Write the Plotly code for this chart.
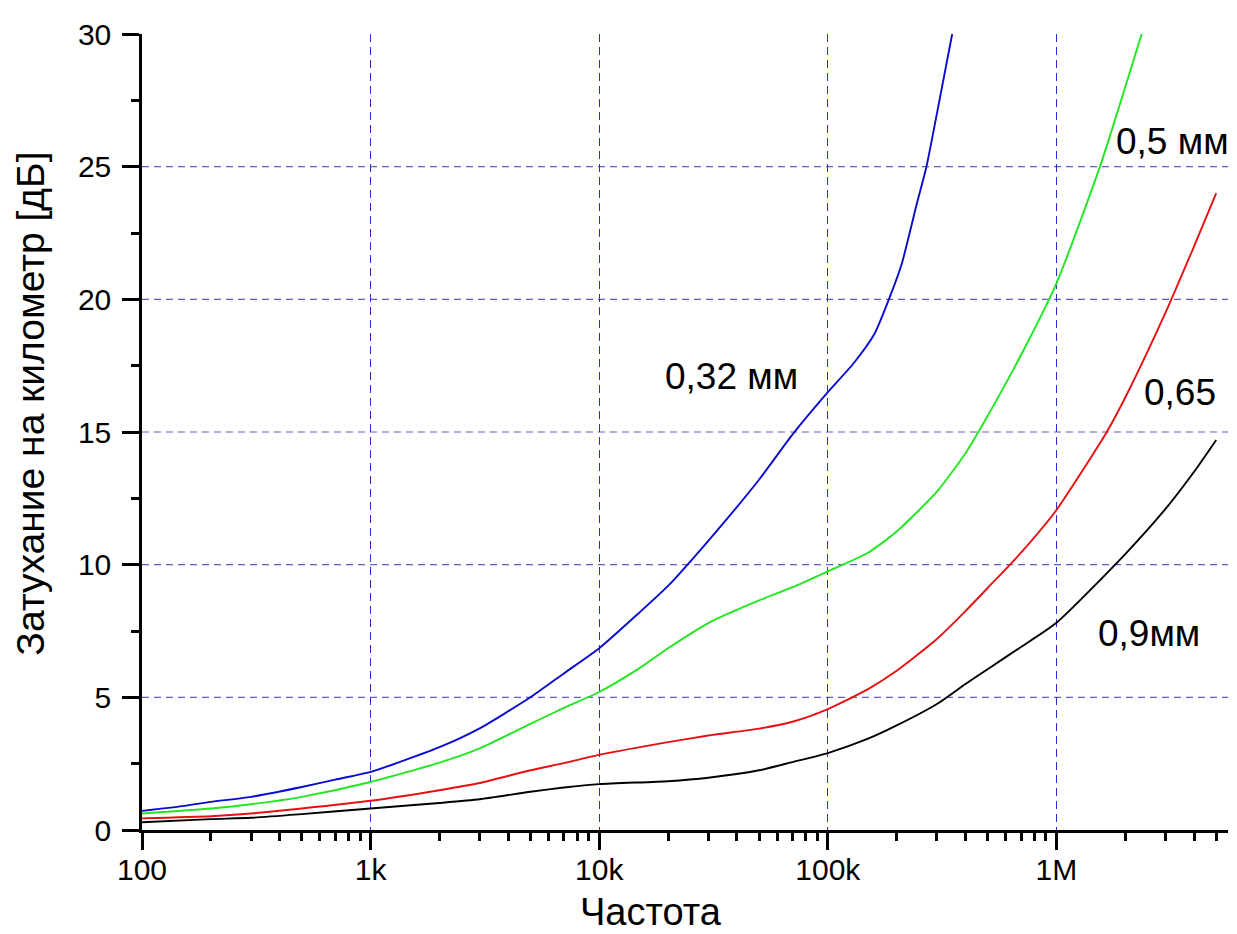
import plotly.graph_objects as go

# ---- data ----
freq_032 = [100, 150, 200, 300, 500, 700, 1000, 2000, 3000, 5000, 7000, 10000, 15000, 20000, 30000,
            50000, 70000, 100000, 130000, 160000, 185000, 210000, 245000, 270000, 300000, 350000]
att_032 = [0.72, 0.9, 1.06, 1.25, 1.62, 1.9, 2.19, 3.12, 3.83, 5.0, 5.9, 6.85, 8.2, 9.2, 10.9,
           13.2, 14.9, 16.5, 17.6, 18.7, 20.0, 21.3, 23.6, 25.0, 27.0, 30.0]

freq_05 = [100, 200, 300, 500, 1000, 2000, 3000, 5000, 7000, 10000, 15000, 20000, 30000, 50000,
           70000, 100000, 150000, 200000, 300000, 400000, 500000, 700000, 1000000, 1550000,
           2000000, 2360000]
att_05 = [0.62, 0.81, 0.97, 1.25, 1.81, 2.54, 3.08, 4.0, 4.6, 5.2, 6.1, 6.85, 7.8, 8.65,
          9.15, 9.75, 10.45, 11.25, 12.75, 14.2, 15.6, 17.9, 20.6, 25.0, 28.0, 30.0]

freq_065 = [100, 200, 300, 500, 1000, 2000, 3000, 5000, 7000, 10000, 20000, 30000, 50000, 70000,
            100000, 150000, 200000, 300000, 400000, 500000, 700000, 1000000, 1660000, 2000000,
            3000000, 4000000, 5000000]
att_065 = [0.44, 0.52, 0.62, 0.81, 1.1, 1.5, 1.77, 2.25, 2.52, 2.83, 3.31, 3.56, 3.82, 4.08,
           4.56, 5.31, 6.0, 7.2, 8.25, 9.12, 10.45, 12.06, 15.0, 16.3, 19.5, 22.0, 24.0]

freq_09 = [100, 200, 300, 500, 1000, 2000, 3000, 5000, 7000, 10000, 20000, 30000, 50000, 70000,
           100000, 150000, 200000, 300000, 400000, 500000, 700000, 1000000, 2000000, 3000000,
           4000000, 5000000]
att_09 = [0.29, 0.41, 0.46, 0.6, 0.81, 1.02, 1.16, 1.44, 1.6, 1.73, 1.84, 1.97, 2.25, 2.56,
          2.9, 3.44, 3.94, 4.75, 5.5, 6.06, 6.9, 7.81, 10.4, 12.1, 13.5, 14.7]

series_labels = ["0,32 мм", "0,5 мм", "0,65", "0,9мм"]
x_tick_vals = [100, 1000, 10000, 100000, 1000000]
x_tick_text = ["100", "1k", "10k", "100k", "1M"]
y_tick_vals = [0, 5, 10, 15, 20, 25, 30]
y_grid_vals = [5, 10, 15, 20, 25]

X_LOG_MIN, X_LOG_MAX = 2.0, 6.7505

fig = go.Figure()
series = [
    (freq_032, att_032, "#0a0ad2"),
    (freq_05, att_05, "#22e622"),
    (freq_065, att_065, "#e61010"),
    (freq_09, att_09, "#000000"),
]
for (fx, fy, col), name in zip(series, series_labels):
    fig.add_trace(go.Scatter(x=fx, y=fy, mode="lines", name=name,
                             line=dict(color=col, width=1.9, shape="spline", smoothing=0.6),
                             showlegend=False))

minor_x = [m * 10 ** d for d in range(2, 7) for m in range(2, 10) if m * 10 ** d <= 10 ** X_LOG_MAX]
minor_y = [v + 2.5 for v in y_tick_vals[:-1]]

font_family = "Liberation Sans, Arial, sans-serif"

# page body has an 8px margin: plot area at page px x 142..1228, y 29..830
fig.update_layout(
    width=1229, height=926,
    margin=dict(l=134, r=9, t=21, b=104),
    paper_bgcolor="white", plot_bgcolor="white",
    font=dict(family=font_family, color="black"),
    xaxis=dict(
        type="log", range=[X_LOG_MIN, X_LOG_MAX],
        tickmode="array", tickvals=x_tick_vals, ticktext=x_tick_text,
        ticks="outside", ticklen=17, tickwidth=2.5, tickcolor="black",
        showline=True, linecolor="black", linewidth=2.5,
        showgrid=True, gridcolor="#2c2cd4", gridwidth=1, griddash="8px,5px",
        zeroline=False, tickfont=dict(size=30), ticklabelstandoff=-6,
        minor=dict(tickmode="array", tickvals=minor_x, ticks="outside", ticklen=8,
                   tickwidth=2.5, tickcolor="black", showgrid=False),
    ),
    yaxis=dict(
        range=[0, 30], tickmode="array", tickvals=y_tick_vals,
        ticks="outside", ticklen=17, tickwidth=2.5, tickcolor="black",
        showline=True, linecolor="black", linewidth=2.5,
        showgrid=False, zeroline=False, tickfont=dict(size=30), ticklabelstandoff=5,
        minor=dict(tickmode="array", tickvals=minor_y, ticks="outside", ticklen=8,
                   tickwidth=2.5, tickcolor="black", showgrid=False),
    ),
)

for gv in y_grid_vals:
    fig.add_shape(type="line", xref="paper", yref="y", x0=0, x1=1, y0=gv, y1=gv,
                  line=dict(color="#5f5fcc", width=1.2, dash="7px,5px"), layer="below")

# plot area in page pixels (for placing text labels)
PL, PR, PT, PB = 142, 1228, 29, 830


def px(xp, yp):
    return (xp - PL) / (PR - PL), (PB - yp) / (PB - PT)


label_pos = [(731, 374), (1172, 137), (1180, 390), (1149, 632)]
for text, (lx, ly) in zip(series_labels, label_pos):
    ax_, ay_ = px(lx, ly)
    fig.add_annotation(text=text, x=ax_, y=ay_, xref="paper", yref="paper",
                       showarrow=False, xanchor="center", yanchor="middle",
                       font=dict(size=37, family=font_family, color="black"))

tx, ty = px(651, 913)
fig.add_annotation(text="Частота", x=tx, y=ty, xref="paper", yref="paper",
                   showarrow=False, xanchor="center", yanchor="middle",
                   font=dict(size=38, family=font_family, color="black"))
tx, ty = px(31, 401)
fig.add_annotation(text="Затухание на километр [дБ]", x=tx, y=ty, xref="paper", yref="paper",
                   showarrow=False, xanchor="center", yanchor="middle", textangle=-90,
                   font=dict(size=39, family=font_family, color="black"))

fig.write_html("out.html")
